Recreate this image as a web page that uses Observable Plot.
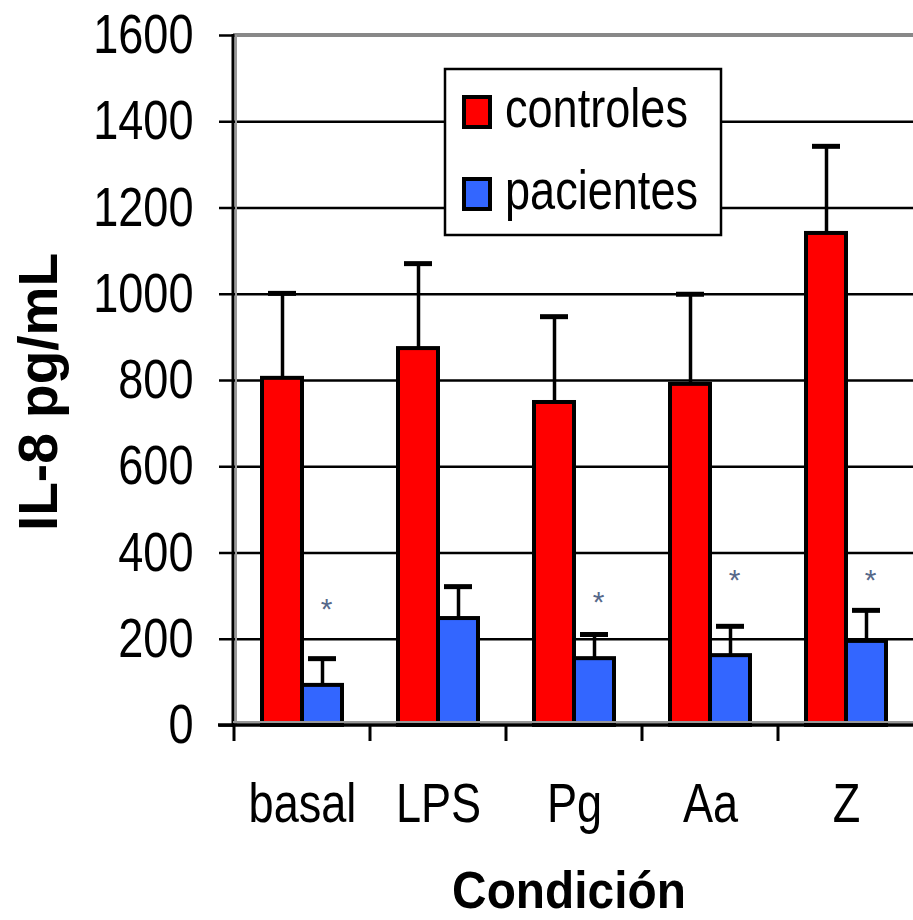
<!DOCTYPE html>
<html><head><meta charset="utf-8">
<script src="https://cdn.jsdelivr.net/npm/d3@7"></script>
<script src="https://cdn.jsdelivr.net/npm/@observablehq/plot@0.6"></script>
<style>body{margin:0;background:#fff} svg{overflow:visible}</style>
</head><body><div id="chart"></div>
<script>
const categories = ["basal","LPS","Pg","Aa","Z"];
const series = ["controles","pacientes"];
const controles = [805,874,749,791,1141];
const controlesErr = [197,197,199,209,202];
const pacientes = [93,248,155,162,195];
const pacientesErr = [62,74,56,68,72];
const asteriskY = [283,null,299,350,350];
const yTicks = [0,200,400,600,800,1000,1200,1400,1600];
const colors = ["#ff0000","#3366ff"];

const rows = [];
categories.forEach((c,i)=>{
  rows.push({cat:c, serie:"controles", value:controles[i], err:controlesErr[i]});
  rows.push({cat:c, serie:"pacientes", value:pacientes[i], err:pacientesErr[i]});
});
const stars = categories.map((c,i)=>({cat:c, serie:"pacientes", y:asteriskY[i]})).filter(d=>d.y!=null);

const font = "'Liberation Sans',Arial,sans-serif";
const squeeze = 0.82;

const plot = Plot.plot({
  width: 913, height: 920,
  marginLeft: 233, marginRight: -2.5, marginTop: 35, marginBottom: 195,
  style: {fontFamily: font, background:"transparent", overflow:"visible", color:"#000"},
  fx: {domain: categories, padding: 0, label: null},
  x: {domain: series, paddingInner: 0, paddingOuter: 0.685, axis: null},
  y: {domain: [0,1600], label: null},
  color: {domain: series, range: colors},
  marks: [
    Plot.gridY(yTicks.filter(t=>t>0 && t<1600), {stroke:"#000", strokeOpacity:1, strokeWidth:2.5}),
    Plot.barY(rows, {fx:"cat", x:"serie", y:"value", fill:"serie", stroke:"#000", strokeWidth:4}),
    Plot.ruleX(rows, {fx:"cat", x:"serie", y1:"value", y2: d=>d.value+d.err, stroke:"#000", strokeWidth:3.5}),
    Plot.tickY(rows, {fx:"cat", x:"serie", y: d=>d.value+d.err, stroke:"#000", strokeWidth:5, inset:6}),
    Plot.text(stars, {fx:"cat", x:"serie", y:"y", text:()=>"*", fontSize:30, fill:"#56698a", dx:4, dy:6}),
    Plot.axisY(yTicks, {tickSize:15, tickPadding:26, fontSize:55, label:null, stroke:"#000", strokeWidth:2.5, tickFormat: d=>String(d)}),
    Plot.axisFx({anchor:"bottom", tickSize:0, tickPadding:57, fontSize:55, label:null})
  ]
});
document.getElementById("chart").appendChild(plot);

const svg = d3.select(plot);
// horizontally condensed tick labels, as in the reference
svg.selectAll('g[aria-label="y-axis tick label"] text, g[aria-label="fx-axis tick label"] text').each(function(){
  const t = this.getAttribute("transform") || "";
  this.setAttribute("transform", t + ` scale(${squeeze},1)`);
});
svg.selectAll('g[aria-label="fx-axis tick label"]').each(function(){
  const t = this.getAttribute("transform");
});

const fx = plot.scale("fx");
const y = plot.scale("y");
const y0 = y.apply(0), yTop = y.apply(1600);
const xL = 233, xR = 913;
const g = svg.append("g");
g.append("line").attr("x1",xL).attr("x2",xR).attr("y1",yTop).attr("y2",yTop).attr("stroke","#888").attr("stroke-width",4);
g.append("line").attr("x1",xL+3).attr("x2",xL+3).attr("y1",yTop).attr("y2",y0).attr("stroke","#999").attr("stroke-width",2);
g.append("line").attr("x1",xL).attr("x2",xL).attr("y1",yTop-1).attr("y2",y0+2).attr("stroke","#000").attr("stroke-width",3);
g.append("line").attr("x1",xL).attr("x2",xR).attr("y1",y0-3).attr("y2",y0-3).attr("stroke","#999").attr("stroke-width",2);
g.append("line").attr("x1",xL-15).attr("x2",xR).attr("y1",y0).attr("y2",y0).attr("stroke","#000").attr("stroke-width",3.5);
categories.forEach(c=>{
  const x = fx.apply(c);
  g.append("line").attr("x1",x).attr("x2",x).attr("y1",y0).attr("y2",y0+16).attr("stroke","#000").attr("stroke-width",3);
});
// legend
const lg = svg.append("g").attr("text-anchor","start");
lg.append("rect").attr("x",445).attr("y",69).attr("width",276).attr("height",166).attr("fill","#fff").attr("stroke","#000").attr("stroke-width",2.5);
series.forEach((s,i)=>{
  const yy = 97 + i*82;
  lg.append("rect").attr("x",464).attr("y",yy).attr("width",26).attr("height",30).attr("fill",colors[i]).attr("stroke","#000").attr("stroke-width",4);
  lg.append("text").attr("transform",`translate(505,${yy+30}) scale(${squeeze},1)`).attr("text-anchor","start")
    .attr("font-family",font).attr("font-size",55).attr("fill","#000").text(s);
});
// titles
svg.append("text").attr("transform","translate(57,392) rotate(-90)").attr("text-anchor","middle")
  .attr("font-family",font).attr("font-weight","bold").attr("font-size",55).attr("fill","#000").text("IL-8 pg/mL");
svg.append("text").attr("transform","translate(569,908) scale(0.92,1)").attr("text-anchor","middle")
  .attr("font-family",font).attr("font-weight","bold").attr("font-size",52).attr("fill","#000").text("Condición");
</script></body></html>
